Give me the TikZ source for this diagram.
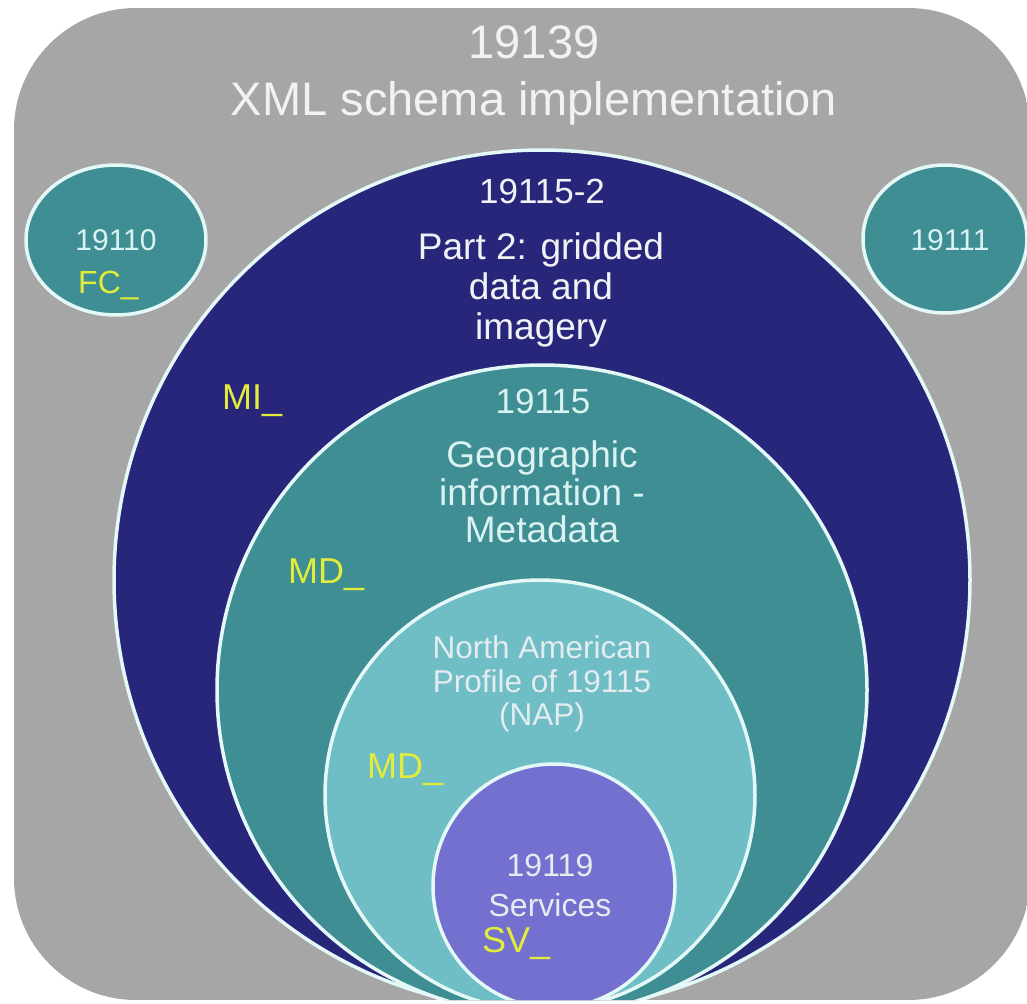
\documentclass[tikz,border=0pt]{standalone}
\usepackage{fontspec}
\setmainfont{Liberation Sans}
\definecolor{bggray}{RGB}{166,166,166}
\definecolor{navyc}{RGB}{40,38,122}
\definecolor{tealA}{RGB}{62,142,148}
\definecolor{tealB}{RGB}{112,190,197}
\definecolor{purpleS}{RGB}{116,112,208}
\definecolor{codeyel}{RGB}{226,236,58}
\definecolor{rimcol}{RGB}{228,248,248}
\definecolor{txtcyan}{RGB}{218,242,242}
\definecolor{txtwhite}{RGB}{242,242,246}
\definecolor{txtnap}{RGB}{228,236,240}
\tikzset{
  rim/.style={draw=rimcol, line width=3.5bp},
  blocktxt/.style={inner sep=0pt, align=center},
  codetxt/.style={inner sep=0pt, anchor=base west, text=codeyel,
    font=\fontsize{36bp}{40bp}\selectfont},
}
\begin{document}
\begin{tikzpicture}[x=1bp,y=-1bp]
\useasboundingbox (0,0) rectangle (1027,1004);
\fill[white] (0,0) rectangle (1027,1004);
\begin{scope}
  \clip[rounded corners=122bp] (14,8) rectangle (1030,1000);
  \fill[bggray] (14,8) rectangle (1030,1000);
  % small side ellipses
  \filldraw[fill=tealA, rim] (116,240) ellipse [x radius=90, y radius=75];
  \filldraw[fill=tealA, rim] (945,239) ellipse [x radius=82, y radius=74];
  % nested circles
  \filldraw[fill=navyc, rim] (542,580) ellipse [x radius=428, y radius=430];
  \filldraw[fill=tealA, rim] (542,690) ellipse [x radius=325, y radius=325];
  \filldraw[fill=tealB, rim] (540,795) ellipse [x radius=215, y radius=215];
  \filldraw[fill=purpleS, rim] (554,886) ellipse [x radius=121, y radius=122];
\end{scope}
% title
\node[blocktxt, text=txtwhite, font=\fontsize{47bp}{57bp}\selectfont] (title) at (534,75)
  {19139\\XML schema implementation};
% side standards
\node[inner sep=0pt, anchor=base, text=txtcyan, font=\fontsize{30bp}{34bp}\selectfont] (s19110) at (116,250) {19110};
\node[codetxt, font=\fontsize{32bp}{36bp}\selectfont] (fc) at (78,293) {FC\_};
\node[inner sep=0pt, anchor=base, text=txtcyan, font=\fontsize{30bp}{34bp}\selectfont] (s19111) at (950,250) {19111};
% 19115-2
\node[inner sep=0pt, anchor=base, text=txtwhite, font=\fontsize{35bp}{40bp}\selectfont] (s191152) at (542,203) {19115-2};
\node[blocktxt, text=txtwhite, font=\fontsize{37bp}{40bp}\selectfont] (part2) at (541,290)
  {Part 2: gridded\\data and\\imagery};
\node[codetxt] (mi) at (222,409) {MI\_};
% 19115
\node[inner sep=0pt, anchor=base, text=txtcyan, font=\fontsize{35bp}{40bp}\selectfont] (s19115) at (543,413) {19115};
\node[blocktxt, text=txtcyan, font=\fontsize{37bp}{37.5bp}\selectfont] (geo) at (542,492)
  {Geographic\\information -\\Metadata};
\node[codetxt] (md1) at (288,583) {MD\_};
% NAP
\node[blocktxt, text=txtnap, font=\fontsize{31.5bp}{33.5bp}\selectfont] (nap) at (542,684)
  {North American\\Profile of 19115\\(NAP)};
\node[codetxt] (md2) at (367,778) {MD\_};
% 19119
\node[blocktxt, text=txtnap, font=\fontsize{32bp}{40bp}\selectfont] (serv) at (550,885)
  {19119\\Services};
\node[codetxt] (sv) at (482,952) {SV\_};
\end{tikzpicture}
\end{document}
